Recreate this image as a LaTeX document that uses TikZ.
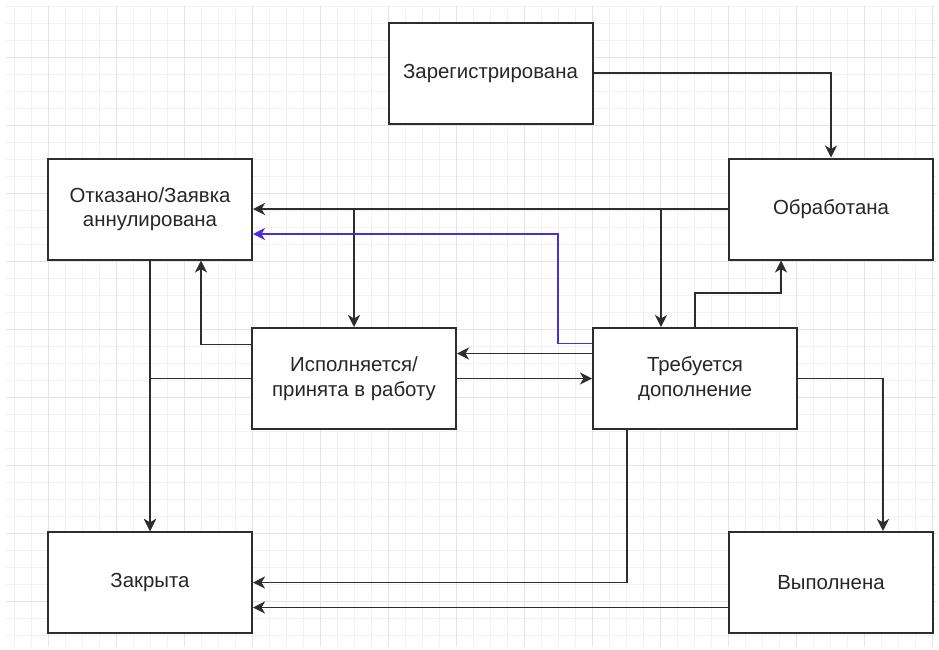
\documentclass[tikz,border=0pt]{standalone}
\usepackage{fontspec}
\setmainfont{Liberation Sans}
\usepackage{tikz}
\usetikzlibrary{arrows.meta,calc}
\definecolor{gridminor}{RGB}{242,242,242}
\definecolor{gridmajor}{RGB}{228,228,228}
\definecolor{edgegray}{RGB}{45,45,45}
\definecolor{backblue}{RGB}{78,44,222}
\tikzset{
  gridline/.style={gridminor,line width=0.8pt},
  gridline major/.style={gridmajor,line width=1pt},
  state/.style={draw=edgegray,line width=2pt,fill=white,minimum width=204pt,
                minimum height=101pt,inner sep=2pt,align=center,text=black!85,
                font=\fontsize{20.4}{24.5}\selectfont},
  flow/.style={-{Stealth[length=12pt,width=12pt,inset=3.5pt]},edgegray,line width=1.9pt},
  backflow/.style={flow,backblue},
}

\begin{document}
\begin{tikzpicture}[x=1pt,y=-1pt]
  \useasboundingbox (0,0) rectangle (939,649);
  \fill[white] (0,0) rectangle (939,649);
  % background grid
  \foreach \gx in {14,31,...,937} \draw[gridline] (\gx,6) -- (\gx,647);
  \foreach \gy in {6,23,...,647} \draw[gridline] (6,\gy) -- (937,\gy);
  \foreach \gx in {48,116,...,937} \draw[gridline major] (\gx,6) -- (\gx,647);
  \foreach \gy in {57,125,...,647} \draw[gridline major] (6,\gy) -- (937,\gy);

  \node[state] (reg)  at (490.5,73)   {Зарегистрирована};
  \node[state] (obr)  at (831,209)    {Обработана};
  \node[state] (otk)  at (150,209)    {Отказано/Заявка\\аннулирована};
  \node[state] (isp)  at (354,378.5)  {Исполняется/\\принята в работу};
  \node[state] (treb) at (695,378.5)  {Требуется\\дополнение};
  \node[state] (zak)  at (150,582.5)  {Закрыта};
  \node[state] (vyp)  at (831,582.5)  {Выполнена};

  \draw[flow] (reg.east) -| (obr.north);
  \draw[flow] (obr.west) -- (otk.east);
  \draw[flow] (obr.west) -| (isp.north);
  \draw[flow] (obr.west) -| ([xshift=-34pt]treb.north);
  \draw[backflow] ([yshift=35pt]treb.west) -- ++(-34,0) |- ([yshift=-25pt]otk.east);
  \draw[flow] ([yshift=25pt]treb.west) -- ([yshift=25pt]isp.east);
  \draw[flow] (isp.east) -- (treb.west);
  \draw[flow] (treb.north) -- ++(0,-34) -| ([xshift=-50pt]obr.south);
  \draw[flow] ([yshift=34pt]isp.west) -| ([xshift=51pt]otk.south);
  \draw[flow] (otk.south) -- (zak.north);
  \draw[flow] (isp.west) -| (zak.north);
  \draw[flow] (treb.east) -| ([xshift=52pt]vyp.north);
  \draw[flow] ([xshift=-68pt]treb.south) |- (zak.east);
  \draw[flow] ([yshift=-25pt]vyp.west) -- ([yshift=-25pt]zak.east);
\end{tikzpicture}
\end{document}
